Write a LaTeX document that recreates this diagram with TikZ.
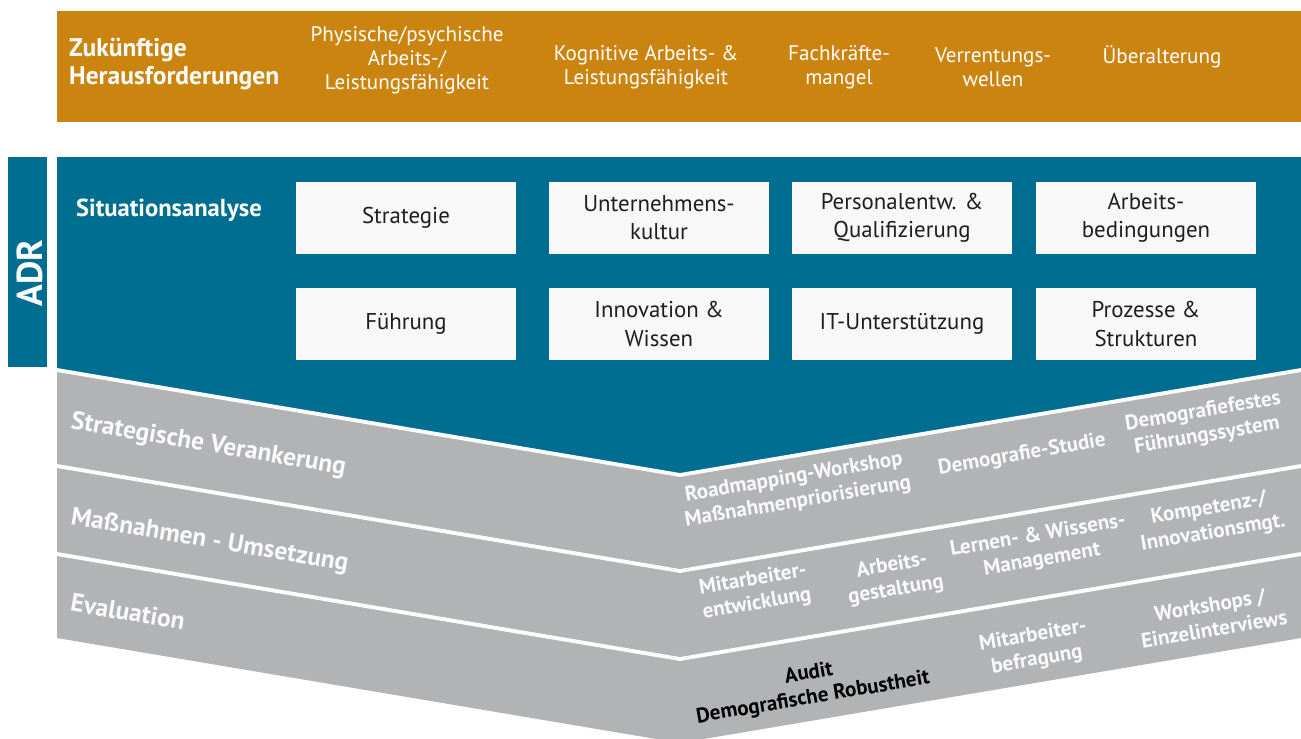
\documentclass[tikz,border=0pt]{standalone}
\usepackage{fontspec}
\setmainfont{PT Sans}
\usepackage{tikz}
\usetikzlibrary{positioning}
\definecolor{AdrBlue}{RGB}{0,110,145}
\definecolor{AdrOrange}{RGB}{204,132,16}
\definecolor{AdrGray}{RGB}{178,179,181}
\definecolor{BoxWhite}{RGB}{248,248,248}
\definecolor{BoxText}{RGB}{30,30,30}
\tikzset{
  fieldbox/.style={fill=BoxWhite, text=BoxText, inner sep=0pt, minimum width=4.4cm, minimum height=1.44cm, align=center, font=\fontsize{13}{16}\selectfont},
  headtext/.style={text=white, align=center, font=\fontsize{12}{13.8}\selectfont},
  stagetext/.style={text=white!94!AdrGray, anchor=west, rotate=-9.6, font=\bfseries\fontsize{14.5}{16}\selectfont},
  tooltext/.style={text=white!94!AdrGray, align=center, rotate=9.6, font=\bfseries\fontsize{12}{14}\selectfont},
}

\begin{document}
\begin{tikzpicture}[x=0.02cm, y=-0.02cm]
  \fill[white] (0,0) rectangle (1301,738);
  \clip (0,0) rectangle (1301,738);
  % top bar
  \fill[AdrOrange] (57,11) rectangle (1301,122);
  \node[text=white, anchor=west, align=left, font=\bfseries\fontsize{14.5}{16}\selectfont] (zukunft) at (63,64) {Zukünftige\\Herausforderungen};
  \node[headtext] (physis) at (407,60) {Physische/psychische\\Arbeits-/\\Leistungsfähigkeit};
  \node[headtext] (kognitiv) at (646,67) {Kognitive Arbeits- \&\\Leistungsfähigkeit};
  \node[headtext] (fachkr) at (839,67) {Fachkräfte-\\mangel};
  \node[headtext] (rente) at (993,67) {Verrentungs-\\wellen};
  \node[headtext] (alter) at (1162,57) {Überalterung};
  % ADR bar
  \fill[AdrBlue] (8,157) rectangle (47,367);
  \node[text=white, rotate=90, font=\bfseries\fontsize{20.5}{24}\selectfont] (adr) at (30,273) {ADR};
  % bands
  \fill[AdrGray] (57,370) -- (680,475) -- (1301,370) -- (1301,638) -- (680,743) -- (57,638) -- cycle;
  \fill[AdrBlue] (57,157) -- (1301,157) -- (1301,370) -- (680,475) -- (57,370) -- cycle;
  \foreach \d in {0,96,184}
    \draw[white, line width=2.2pt] (57,{370+\d}) -- (680,{475+\d}) -- (1301,{370+\d});
  \node[text=white, anchor=west, font=\bfseries\fontsize{14}{16}\selectfont] (situ) at (70,210) {Situationsanalyse};
  % analysis fields
  \node[fieldbox] (strat) at (406,218) {Strategie};
  \node[fieldbox] (kultur) at (659,218) {Unternehmens-\\kultur};
  \node[fieldbox] (quali) at (902,218) {Personalentw. \&\\Qualifizierung};
  \node[fieldbox] (beding) at (1146,218) {Arbeits-\\bedingungen};
  \node[fieldbox] (fuehr) at (406,324) {Führung};
  \node[fieldbox] (wissen) at (659,324) {Innovation \&\\Wissen};
  \node[fieldbox] (itsupp) at (902,324) {IT-Unterstützung};
  \node[fieldbox] (prozess) at (1146,324) {Prozesse \&\\Strukturen};
  % stages
  \node[stagetext] (veranker) at (65,421) {Strategische Verankerung};
  \node[stagetext] (umsetz) at (65,517) {Maßnahmen - Umsetzung};
  \node[stagetext] (eval) at (65,601) {Evaluation};
  \node[tooltext] (roadmap) at (796,490) {Roadmapping-Workshop\\Maßnahmenpriorisierung};
  \node[tooltext] (studie) at (1022,455) {Demografie-Studie};
  \node[tooltext] (fuehrsys) at (1205,424) {Demografiefestes\\Führungssystem};
  \node[tooltext] (mitentw) at (755,592) {Mitarbeiter-\\entwicklung};
  \node[tooltext] (gestalt) at (894,578) {Arbeits-\\gestaltung};
  \node[tooltext] (lernen) at (1040,548) {Lernen- \& Wissens-\\Management};
  \node[tooltext] (kompet) at (1211,521) {Kompetenz-/\\Innovationsmgt.};
  \node[tooltext, text=black] (audit) at (811,686) {Audit\\Demografische Robustheit};
  \node[tooltext] (befrag) at (1035,648) {Mitarbeiter-\\befragung};
  \node[tooltext] (wshop) at (1212,617) {Workshops /\\Einzelinterviews};
\end{tikzpicture}
\end{document}
